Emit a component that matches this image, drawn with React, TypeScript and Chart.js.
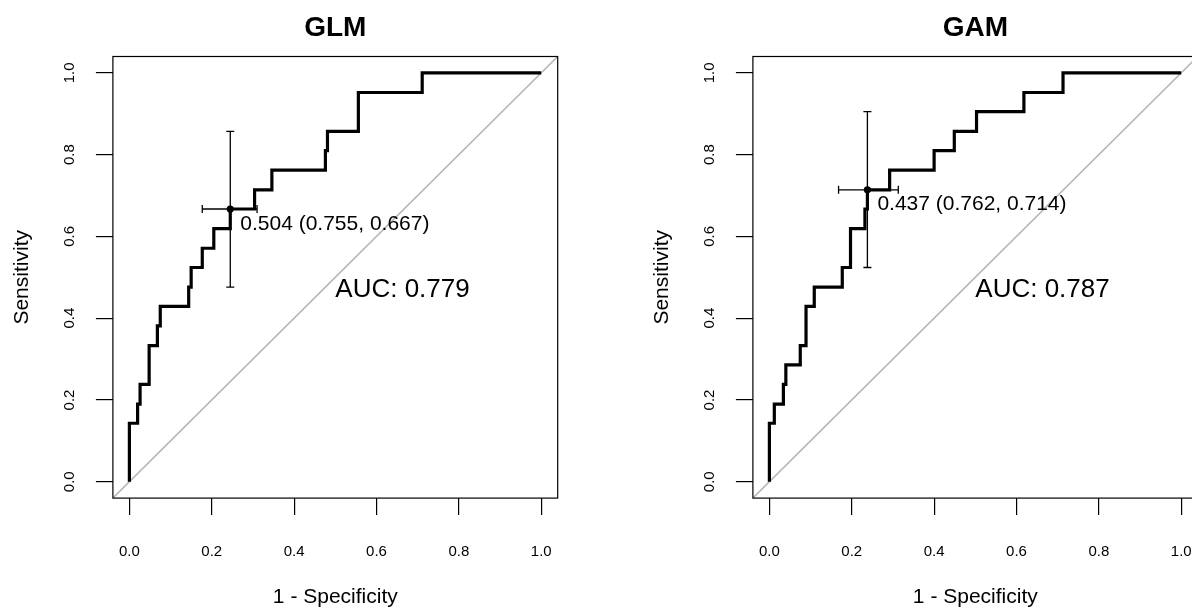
import React, { useEffect, useRef } from "react";
import { Chart, registerables } from "chart.js";

Chart.register(...registerables);

const FONT = "'Liberation Sans', Arial, Helvetica, sans-serif";

// Shared axis definition (R-style 4% extension around [0, 1])
const AXIS_MIN = -0.04;
const AXIS_MAX = 1.04;
const AXIS_TICKS = [0, 0.2, 0.4, 0.6, 0.8, 1.0];
const AUC_LABEL_AT = 0.5;

// GLM ROC curve: 1 - specificity / sensitivity at each cut-off
const GLM_FPR = [
  0, 0, 0.02, 0.02, 0.026, 0.026, 0.048, 0.048, 0.068, 0.068, 0.075, 0.075,
  0.144, 0.144, 0.15, 0.15, 0.177, 0.177, 0.205, 0.205, 0.245, 0.245, 0.304,
  0.304, 0.346, 0.346, 0.476, 0.476, 0.481, 0.481, 0.556, 0.556, 0.711, 0.711, 1,
];
const GLM_TPR = [
  0, 0.143, 0.143, 0.19, 0.19, 0.238, 0.238, 0.333, 0.333, 0.381, 0.381, 0.429,
  0.429, 0.476, 0.476, 0.524, 0.524, 0.571, 0.571, 0.619, 0.619, 0.667, 0.667,
  0.714, 0.714, 0.762, 0.762, 0.81, 0.81, 0.857, 0.857, 0.952, 0.952, 1, 1,
];
const GLM_THRESHOLD = 0.504;
const GLM_BEST_SPEC = 0.755;
const GLM_BEST_SENS = 0.667;
const GLM_SENS_CI = [0.476, 0.857];
const GLM_SPEC_CI = [0.69, 0.823];
const GLM_AUC = 0.779;

// GAM ROC curve
const GAM_FPR = [
  0, 0, 0.012, 0.012, 0.034, 0.034, 0.04, 0.04, 0.075, 0.075, 0.089, 0.089,
  0.109, 0.109, 0.177, 0.177, 0.197, 0.197, 0.232, 0.232, 0.238, 0.238, 0.292,
  0.292, 0.4, 0.4, 0.449, 0.449, 0.503, 0.503, 0.618, 0.618, 0.713, 0.713, 1,
];
const GAM_TPR = [
  0, 0.143, 0.143, 0.19, 0.19, 0.238, 0.238, 0.286, 0.286, 0.333, 0.333, 0.429,
  0.429, 0.476, 0.476, 0.524, 0.524, 0.619, 0.619, 0.667, 0.667, 0.714, 0.714,
  0.762, 0.762, 0.81, 0.81, 0.857, 0.857, 0.905, 0.905, 0.952, 0.952, 1, 1,
];
const GAM_THRESHOLD = 0.437;
const GAM_BEST_SPEC = 0.762;
const GAM_BEST_SENS = 0.714;
const GAM_SENS_CI = [0.524, 0.905];
const GAM_SPEC_CI = [0.687, 0.832];
const GAM_AUC = 0.787;

type PanelProps = {
  title: string;
  fpr: number[];
  tpr: number[];
  threshold: number;
  spec: number;
  sens: number;
  sensCi: number[];
  specCi: number[];
  auc: number;
  left: number;
};

// Plot frame plus the threshold and AUC annotations
const panelDecor = {
  id: "panelDecor",
  afterDatasetsDraw(chart: any, _args: any, opts: any) {
    const { ctx, chartArea: a, scales } = chart;
    const x = scales.x;
    const y = scales.y;
    ctx.save();
    ctx.strokeStyle = "#000";
    ctx.lineWidth = 1.2;
    ctx.strokeRect(a.left, a.top, a.right - a.left, a.bottom - a.top);

    ctx.fillStyle = "#000";
    ctx.textAlign = "left";
    ctx.textBaseline = "alphabetic";
    const px = x.getPixelForValue(1 - opts.spec);
    const py = y.getPixelForValue(opts.sens);
    ctx.font = `21px ${FONT}`;
    ctx.fillText(
      `${opts.threshold.toFixed(3)} (${opts.spec.toFixed(3)}, ${opts.sens.toFixed(3)})`,
      px + 10,
      py + 20.5
    );
    ctx.font = `26px ${FONT}`;
    ctx.fillText(
      `AUC: ${opts.auc.toFixed(3)}`,
      x.getPixelForValue(AUC_LABEL_AT),
      y.getPixelForValue(AUC_LABEL_AT) + 19.5
    );
    ctx.restore();
  },
};

function RocPanel(p: PanelProps) {
  const ref = useRef<HTMLCanvasElement | null>(null);

  useEffect(() => {
    if (!ref.current) return;
    const bestX = 1 - p.spec;
    const chart = new Chart(ref.current, {
      type: "scatter",
      data: {
        datasets: [
          {
            data: [{ x: bestX, y: p.sens }],
            pointRadius: 3.6,
            pointBackgroundColor: "#000",
            pointBorderColor: "#000",
            pointBorderWidth: 0,
            showLine: false,
            order: 0,
          },
          {
            data: [
              { x: bestX, y: p.sensCi[0] },
              { x: bestX, y: p.sensCi[1] },
            ],
            showLine: true,
            borderColor: "#000",
            borderWidth: 1.3,
            pointStyle: "line",
            pointRadius: 4,
            pointBorderWidth: 1.3,
            pointBorderColor: "#000",
            pointRotation: 0,
            order: 1,
          },
          {
            data: [
              { x: 1 - p.specCi[1], y: p.sens },
              { x: 1 - p.specCi[0], y: p.sens },
            ],
            showLine: true,
            borderColor: "#000",
            borderWidth: 1.3,
            pointStyle: "line",
            pointRadius: 4,
            pointBorderWidth: 1.3,
            pointBorderColor: "#000",
            pointRotation: 90,
            order: 1,
          },
          {
            data: p.fpr.map((v, i) => ({ x: v, y: p.tpr[i] })),
            showLine: true,
            borderColor: "#000",
            borderWidth: 3.2,
            borderJoinStyle: "miter",
            pointRadius: 0,
            order: 2,
          },
          {
            data: [
              { x: AXIS_MIN, y: AXIS_MIN },
              { x: AXIS_MAX, y: AXIS_MAX },
            ],
            showLine: true,
            borderColor: "#b3b3b3",
            borderWidth: 1.5,
            pointRadius: 0,
            order: 3,
          },
        ],
      },
      options: {
        animation: false,
        responsive: false,
        devicePixelRatio: 1,
        events: [],
        layout: { padding: { left: 0, right: 38.3, top: 0, bottom: 0 } },
        plugins: {
          legend: { display: false },
          tooltip: { enabled: false },
          title: {
            display: true,
            text: p.title,
            color: "#000",
            fullSize: false,
            font: { family: FONT, size: 28, weight: "bold" },
            padding: { top: 11.2, bottom: 11.7 },
          },
          panelDecor: {
            threshold: p.threshold,
            spec: p.spec,
            sens: p.sens,
            auc: p.auc,
          },
        } as any,
        scales: {
          x: {
            type: "linear",
            min: AXIS_MIN,
            max: AXIS_MAX,
            afterBuildTicks: (s: any) => {
              s.ticks = AXIS_TICKS.map((v) => ({ value: v }));
            },
            afterFit: (s: any) => {
              s.height = 112.9;
            },
            grid: {
              display: true,
              drawOnChartArea: false,
              drawTicks: true,
              tickLength: 17,
              color: "#000",
              lineWidth: 1.2,
            },
            border: { display: false },
            ticks: {
              color: "#000",
              font: { family: FONT, size: 15 },
              padding: 27.6,
              autoSkip: false,
              minRotation: 0,
              maxRotation: 0,
              callback: (v: any) => Number(v).toFixed(1),
            },
            title: {
              display: true,
              text: "1 - Specificity",
              color: "#000",
              font: { family: FONT, size: 21 },
              padding: { top: 0, bottom: 1.4 },
            },
          },
          y: {
            type: "linear",
            min: AXIS_MIN,
            max: AXIS_MAX,
            afterBuildTicks: (s: any) => {
              s.ticks = AXIS_TICKS.map((v) => ({ value: v }));
            },
            afterFit: (s: any) => {
              s.width = 112.9;
            },
            grid: {
              display: true,
              drawOnChartArea: false,
              drawTicks: true,
              tickLength: 17,
              color: "#000",
              lineWidth: 1.2,
            },
            border: { display: false },
            ticks: {
              color: "#000",
              font: { family: FONT, size: 15 },
              padding: 15.5,
              autoSkip: false,
              minRotation: 90,
              maxRotation: 90,
              crossAlign: "center",
              callback: (v: any) => Number(v).toFixed(1),
            },
            title: {
              display: true,
              text: "Sensitivity",
              color: "#000",
              font: { family: FONT, size: 21 },
              padding: { top: 9.4, bottom: 0 },
            },
          },
        },
      } as any,
      plugins: [panelDecor],
    });
    return () => chart.destroy();
  }, []);

  return (
    <canvas
      ref={ref}
      width={596}
      height={611}
      style={{ position: "absolute", left: p.left, top: 0, width: 596, height: 611 }}
    />
  );
}

export default function App() {
  return (
    <div
      style={{
        position: "fixed",
        left: 0,
        top: 0,
        width: 1192,
        height: 611,
        overflow: "hidden",
        background: "#fff",
      }}
    >
      <RocPanel
        title="GLM"
        fpr={GLM_FPR}
        tpr={GLM_TPR}
        threshold={GLM_THRESHOLD}
        spec={GLM_BEST_SPEC}
        sens={GLM_BEST_SENS}
        sensCi={GLM_SENS_CI}
        specCi={GLM_SPEC_CI}
        auc={GLM_AUC}
        left={0}
      />
      <RocPanel
        title="GAM"
        fpr={GAM_FPR}
        tpr={GAM_TPR}
        threshold={GAM_THRESHOLD}
        spec={GAM_BEST_SPEC}
        sens={GAM_BEST_SENS}
        sensCi={GAM_SENS_CI}
        specCi={GAM_SPEC_CI}
        auc={GAM_AUC}
        left={640}
      />
    </div>
  );
}
